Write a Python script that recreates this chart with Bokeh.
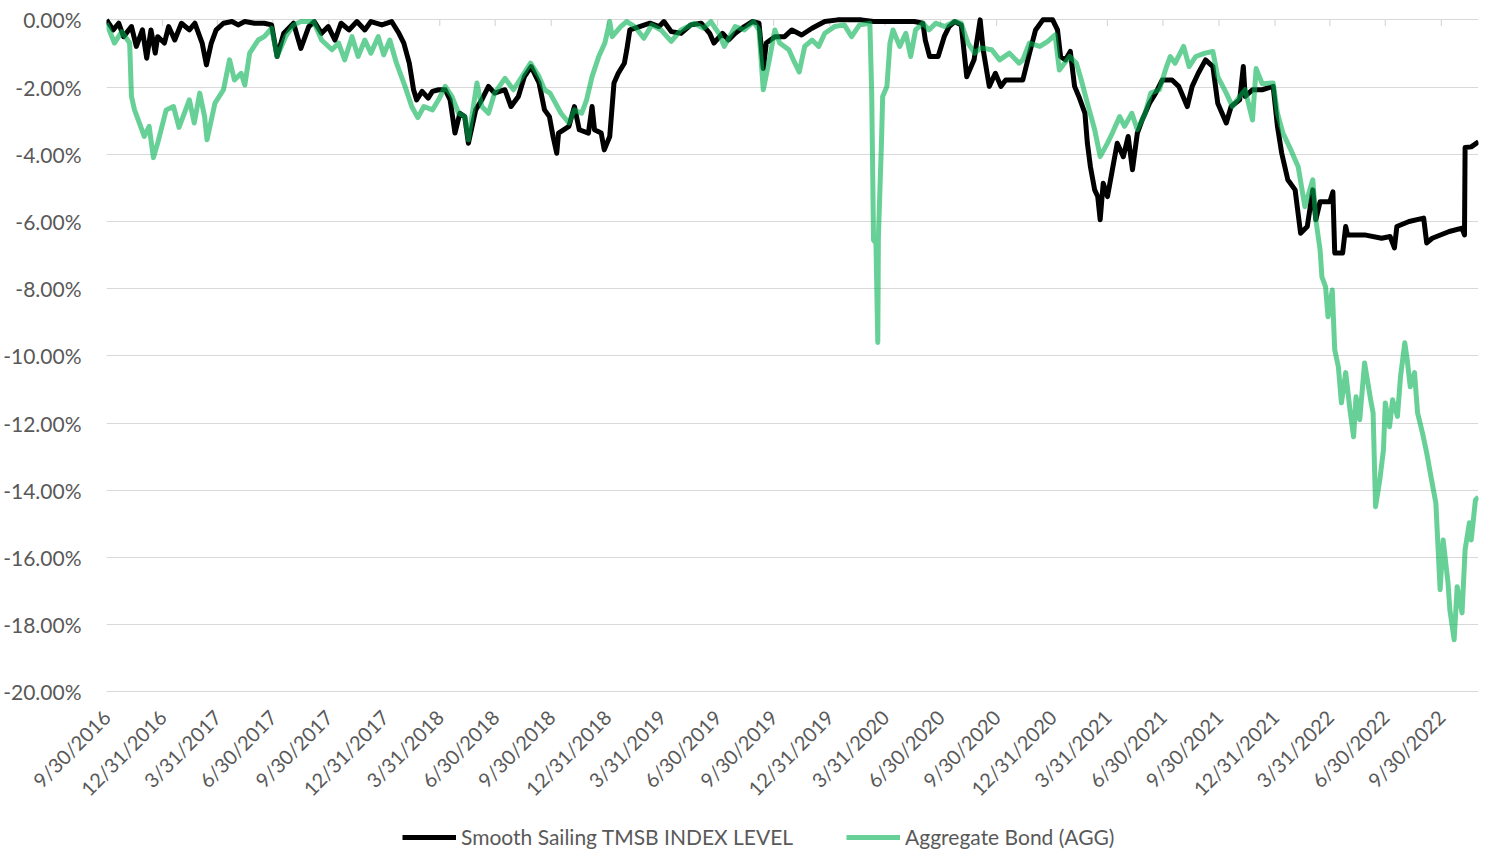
import math
import pandas as pd
from bokeh.plotting import figure
from bokeh.layouts import column
from bokeh.models import (Range1d, FixedTicker, CustomJSTickFormatter, PrintfTickFormatter,
                          Legend, ColumnDataSource)
from bokeh.embed import file_html
from bokeh.resources import INLINE

# ---------------- data (drawdown, %) ----------------
tick_labels = ["9/30/2016", "12/31/2016", "3/31/2017", "6/30/2017", "9/30/2017", "12/31/2017",
               "3/31/2018", "6/30/2018", "9/30/2018", "12/31/2018", "3/31/2019", "6/30/2019",
               "9/30/2019", "12/31/2019", "3/31/2020", "6/30/2020", "9/30/2020", "12/31/2020",
               "3/31/2021", "6/30/2021", "9/30/2021", "12/31/2021", "3/31/2022", "6/30/2022",
               "9/30/2022"]
y_ticks = [0, -2, -4, -6, -8, -10, -12, -14, -16, -18, -20]

tmsb_dates = [
    "2016-09-30", "2016-10-11", "2016-10-20", "2016-10-28", "2016-11-10", "2016-11-18", "2016-11-28",
    "2016-12-05", "2016-12-12", "2016-12-19", "2016-12-23", "2017-01-03", "2017-01-10", "2017-01-20",
    "2017-01-31", "2017-02-13", "2017-02-22", "2017-03-06", "2017-03-13", "2017-03-21", "2017-03-29",
    "2017-04-10", "2017-04-24", "2017-05-04", "2017-05-15", "2017-05-31", "2017-06-16", "2017-06-28",
    "2017-07-07", "2017-07-18", "2017-08-03", "2017-08-15", "2017-08-28", "2017-09-06", "2017-09-18",
    "2017-09-29", "2017-10-10", "2017-10-20", "2017-11-02", "2017-11-15", "2017-11-28", "2017-12-08",
    "2017-12-26", "2018-01-11", "2018-01-23", "2018-01-31", "2018-02-09", "2018-02-16", "2018-02-21",
    "2018-03-02", "2018-03-12", "2018-03-19", "2018-03-29", "2018-04-09", "2018-04-17", "2018-04-25",
    "2018-05-03", "2018-05-11", "2018-05-17", "2018-05-29", "2018-06-08", "2018-06-19", "2018-06-29",
    "2018-07-16", "2018-07-26", "2018-08-07", "2018-08-17", "2018-08-28", "2018-09-10", "2018-09-19",
    "2018-09-27", "2018-10-03", "2018-10-09", "2018-10-12", "2018-10-29", "2018-11-07", "2018-11-15",
    "2018-11-30", "2018-12-06", "2018-12-10", "2018-12-21", "2018-12-26", "2019-01-04", "2019-01-11",
    "2019-01-18", "2019-01-28", "2019-02-01", "2019-02-06", "2019-02-22", "2019-03-11", "2019-03-26",
    "2019-04-03", "2019-04-15", "2019-05-01", "2019-05-17", "2019-06-03", "2019-06-17", "2019-06-24",
    "2019-07-08", "2019-07-18", "2019-07-29", "2019-08-13", "2019-08-26", "2019-09-06", "2019-09-13",
    "2019-09-18", "2019-10-02", "2019-10-18", "2019-10-30", "2019-11-15", "2019-12-02", "2019-12-23",
    "2020-01-13", "2020-02-21", "2020-03-12", "2020-05-18", "2020-06-01", "2020-06-05", "2020-06-12",
    "2020-06-26", "2020-07-06", "2020-07-14", "2020-07-23", "2020-08-03", "2020-08-12", "2020-08-24",
    "2020-09-03", "2020-09-08", "2020-09-18", "2020-09-28", "2020-10-07", "2020-10-15", "2020-11-06",
    "2020-11-12", "2020-11-23", "2020-12-03", "2020-12-15", "2020-12-31", "2021-01-08", "2021-01-13",
    "2021-01-21", "2021-01-29", "2021-02-05", "2021-02-12", "2021-02-22", "2021-02-26", "2021-03-03",
    "2021-03-10", "2021-03-15", "2021-03-19", "2021-03-24", "2021-03-31", "2021-04-08", "2021-04-16",
    "2021-04-26", "2021-05-04", "2021-05-11", "2021-05-19", "2021-05-27", "2021-06-08", "2021-06-18",
    "2021-06-29", "2021-07-15", "2021-07-26", "2021-08-09", "2021-08-17", "2021-08-27", "2021-09-08",
    "2021-09-20", "2021-09-28", "2021-10-12", "2021-10-20", "2021-11-03", "2021-11-09", "2021-11-12",
    "2021-11-24", "2021-12-10", "2021-12-28", "2022-01-04", "2022-01-11", "2022-01-21", "2022-02-02",
    "2022-02-11", "2022-02-22", "2022-03-03", "2022-03-08", "2022-03-15", "2022-03-31", "2022-04-05",
    "2022-04-08", "2022-04-21", "2022-04-26", "2022-04-29", "2022-05-27", "2022-06-24", "2022-07-08",
    "2022-07-15", "2022-07-19", "2022-08-08", "2022-09-01", "2022-09-06", "2022-09-15", "2022-10-13",
    "2022-11-03", "2022-11-07", "2022-11-08", "2022-11-18", "2022-11-30"]
tmsb_values = [
    0.00, -0.30, -0.10, -0.50, -0.20, -0.79, -0.30,
    -1.14, -0.30, -0.99, -0.50, -0.69, -0.20, -0.60,
    -0.10, -0.30, -0.10, -0.69, -1.34, -0.69, -0.30,
    -0.10, -0.05, -0.15, -0.05, -0.10, -0.10, -0.15,
    -1.09, -0.40, -0.10, -0.85, -0.20, -0.05, -0.40,
    -0.20, -0.60, -0.10, -0.30, -0.05, -0.30, -0.05,
    -0.15, -0.05, -0.40, -0.69, -1.29, -2.08, -2.38,
    -2.13, -2.33, -2.13, -2.08, -2.08, -2.38, -3.37,
    -2.78, -2.88, -3.67, -2.68, -2.38, -1.98, -2.18,
    -2.08, -2.58, -2.28, -1.69, -1.39, -1.88, -2.68,
    -2.88, -3.47, -3.97, -3.37, -3.17, -2.58, -3.27,
    -3.37, -2.58, -3.27, -3.37, -3.87, -3.47, -1.88,
    -1.59, -1.29, -0.89, -0.30, -0.20, -0.10, -0.20,
    -0.05, -0.35, -0.40, -0.15, -0.10, -0.40, -0.69,
    -0.40, -0.60, -0.40, -0.20, -0.05, -0.10, -1.45,
    -0.69, -0.50, -0.50, -0.30, -0.45, -0.25, -0.05,
    0.00, 0.00, -0.05, -0.05, -0.10, -0.60, -1.09,
    -1.09, -0.50, -0.20, -0.05, -0.15, -1.69, -1.19,
    0.00, -0.89, -1.98, -1.59, -1.98, -1.79, -1.79,
    -1.79, -0.99, -0.30, 0.00, 0.00, -0.30, -1.09,
    -1.19, -0.94, -1.98, -2.28, -2.78, -3.67, -4.37,
    -5.06, -5.26, -5.95, -4.86, -5.26, -4.46, -3.67,
    -4.07, -3.47, -4.46, -3.37, -2.98, -2.48, -2.18,
    -1.79, -1.79, -1.98, -2.58, -1.98, -1.59, -1.19,
    -1.39, -2.48, -3.07, -2.58, -2.38, -1.39, -2.28,
    -2.08, -2.08, -1.98, -3.17, -3.97, -4.76, -5.06,
    -6.35, -6.15, -5.06, -5.95, -5.41, -5.41, -5.12,
    -6.94, -6.94, -6.15, -6.40, -6.40, -6.50, -6.45,
    -6.79, -6.15, -6.00, -5.90, -6.64, -6.50, -6.30,
    -6.20, -6.40, -3.80, -3.78, -3.63]

agg_dates = [
    "2016-09-30", "2016-10-13", "2016-10-25", "2016-11-07", "2016-11-10", "2016-11-15", "2016-11-23",
    "2016-12-01", "2016-12-09", "2016-12-16", "2016-12-23", "2017-01-06", "2017-01-18", "2017-01-27",
    "2017-02-13", "2017-02-21", "2017-03-02", "2017-03-10", "2017-03-14", "2017-03-27", "2017-04-10",
    "2017-04-20", "2017-04-28", "2017-05-09", "2017-05-15", "2017-05-23", "2017-06-06", "2017-06-16",
    "2017-06-28", "2017-07-07", "2017-07-21", "2017-08-03", "2017-08-15", "2017-09-05", "2017-09-18",
    "2017-10-05", "2017-10-16", "2017-10-26", "2017-11-07", "2017-11-17", "2017-11-28", "2017-12-08",
    "2017-12-20", "2017-12-29", "2018-01-08", "2018-01-19", "2018-02-02", "2018-02-13", "2018-02-23",
    "2018-03-05", "2018-03-19", "2018-03-29", "2018-04-09", "2018-04-20", "2018-05-01", "2018-05-11",
    "2018-05-17", "2018-05-31", "2018-06-08", "2018-06-19", "2018-06-29", "2018-07-16", "2018-07-30",
    "2018-08-13", "2018-08-27", "2018-09-10", "2018-09-19", "2018-09-28", "2018-10-16", "2018-10-29",
    "2018-11-07", "2018-11-19", "2018-11-27", "2018-12-06", "2018-12-17", "2018-12-27", "2019-01-04",
    "2019-01-08", "2019-01-22", "2019-02-01", "2019-02-14", "2019-03-01", "2019-03-14", "2019-03-29",
    "2019-04-15", "2019-05-01", "2019-05-23", "2019-06-07", "2019-06-19", "2019-07-02", "2019-07-11",
    "2019-07-29", "2019-08-13", "2019-08-28", "2019-09-06", "2019-09-13", "2019-09-23", "2019-10-02",
    "2019-10-10", "2019-10-25", "2019-11-04", "2019-11-11", "2019-11-20", "2019-12-02", "2019-12-13",
    "2019-12-23", "2020-01-08", "2020-01-24", "2020-02-05", "2020-02-18", "2020-03-06", "2020-03-09",
    "2020-03-12", "2020-03-16", "2020-03-19", "2020-03-20", "2020-03-25", "2020-03-27", "2020-04-03",
    "2020-04-08", "2020-04-13", "2020-04-24", "2020-05-04", "2020-05-12", "2020-05-20", "2020-06-01",
    "2020-06-11", "2020-06-22", "2020-07-07", "2020-07-23", "2020-08-03", "2020-08-14", "2020-08-25",
    "2020-09-04", "2020-09-22", "2020-10-05", "2020-10-21", "2020-11-06", "2020-11-12", "2020-11-23",
    "2020-12-10", "2020-12-23", "2021-01-04", "2021-01-11", "2021-01-28", "2021-02-08", "2021-02-16",
    "2021-02-26", "2021-03-10", "2021-03-19", "2021-03-31", "2021-04-08", "2021-04-20", "2021-04-28",
    "2021-05-10", "2021-05-19", "2021-06-01", "2021-06-10", "2021-06-24", "2021-07-06", "2021-07-12",
    "2021-07-20", "2021-08-03", "2021-08-12", "2021-08-23", "2021-09-07", "2021-09-20", "2021-09-28",
    "2021-10-12", "2021-10-22", "2021-11-03", "2021-11-12", "2021-11-24", "2021-11-30", "2021-12-10",
    "2021-12-28", "2022-01-04", "2022-01-13", "2022-01-26", "2022-02-07", "2022-02-18", "2022-03-03",
    "2022-03-08", "2022-03-15", "2022-03-18", "2022-03-24", "2022-03-28", "2022-04-04", "2022-04-08",
    "2022-04-14", "2022-04-19", "2022-04-26", "2022-05-03", "2022-05-09", "2022-05-13", "2022-05-19",
    "2022-05-27", "2022-06-06", "2022-06-10", "2022-06-14", "2022-06-21", "2022-06-27", "2022-06-30",
    "2022-07-07", "2022-07-12", "2022-07-20", "2022-07-25", "2022-08-01", "2022-08-05", "2022-08-10",
    "2022-08-17", "2022-08-22", "2022-08-30", "2022-09-06", "2022-09-13", "2022-09-21", "2022-09-28",
    "2022-10-03", "2022-10-11", "2022-10-14", "2022-10-21", "2022-10-26", "2022-11-03", "2022-11-08",
    "2022-11-15", "2022-11-18", "2022-11-25", "2022-11-30"]
agg_values = [
    -0.10, -0.69, -0.35, -0.69, -2.28, -2.68, -3.07,
    -3.47, -3.17, -4.10, -3.67, -2.68, -2.58, -3.20,
    -2.38, -3.07, -2.18, -2.88, -3.57, -2.48, -2.08,
    -1.19, -1.79, -1.59, -1.94, -0.99, -0.60, -0.50,
    -0.25, -1.09, -0.50, -0.15, -0.05, -0.05, -0.60,
    -0.89, -0.69, -1.19, -0.50, -1.09, -0.60, -0.99,
    -0.50, -1.04, -0.60, -1.29, -1.98, -2.58, -2.91,
    -2.58, -2.68, -2.38, -1.98, -2.28, -2.78, -2.88,
    -3.57, -1.88, -2.58, -2.78, -2.18, -1.74, -2.08,
    -1.69, -1.29, -1.69, -2.08, -2.18, -2.78, -3.07,
    -2.68, -2.78, -2.38, -1.69, -1.09, -0.69, -0.05,
    -0.50, -0.20, -0.05, -0.20, -0.55, -0.15, -0.30,
    -0.64, -0.30, -0.10, -0.25, -0.05, -0.40, -0.79,
    -0.20, -0.30, -0.05, -0.30, -2.08, -1.19, -0.30,
    -0.69, -0.89, -1.29, -1.55, -0.79, -0.60, -0.79,
    -0.40, -0.20, -0.15, -0.50, -0.15, -0.10, -2.18,
    -6.55, -6.65, -9.60, -6.45, -3.67, -2.28, -1.98,
    -0.69, -0.30, -0.79, -0.40, -1.09, -0.30, -0.10,
    -0.30, -0.10, -0.20, -0.05, -0.10, -0.69, -0.99,
    -0.84, -0.89, -1.19, -0.99, -1.29, -1.19, -0.69,
    -0.79, -0.64, -0.45, -1.49, -1.09, -1.29, -1.79,
    -2.48, -3.27, -4.07, -3.67, -3.37, -2.88, -3.17,
    -2.78, -3.27, -2.78, -2.18, -2.08, -1.39, -1.09,
    -1.29, -0.79, -1.39, -1.09, -0.99, -0.94, -1.69,
    -2.18, -2.58, -2.28, -2.08, -2.98, -1.45, -1.90,
    -1.88, -2.78, -3.37, -3.87, -4.37, -5.56, -4.76,
    -5.95, -6.85, -7.65, -7.95, -8.84, -8.04, -9.82,
    -10.33, -11.40, -10.50, -11.60, -12.41, -11.22, -11.90,
    -10.21, -11.31, -11.70, -14.49, -13.69, -12.80, -11.40,
    -12.11, -11.31, -11.80, -10.62, -9.61, -10.12, -10.92,
    -10.50, -11.70, -12.29, -12.89, -13.60, -14.38, -16.96,
    -15.48, -16.76, -17.56, -18.45, -16.87, -17.65, -15.77,
    -14.97, -15.48, -14.29, -14.20]

series_names = ["Smooth Sailing TMSB INDEX LEVEL", "Aggregate Bond (AGG)"]

# ---------------- figure ----------------
FONT = "Lato"
GRAY_TXT = "#595959"
GRID = "#D9D9D9"
BLACK = "#000000"
GREEN = "#00B050"

tick_dt = pd.to_datetime(tick_labels, format="%m/%d/%Y")
tick_ms = [int(t.value // 10**6) for t in tick_dt]

tmsb_src = ColumnDataSource(dict(x=pd.to_datetime(tmsb_dates), y=tmsb_values))
agg_src = ColumnDataSource(dict(x=pd.to_datetime(agg_dates), y=agg_values))

p = figure(frame_width=1372, frame_height=677, x_axis_type="datetime",
           x_range=Range1d(pd.Timestamp(tmsb_dates[0]), pd.Timestamp(tmsb_dates[-1])),
           y_range=Range1d(-20.05, 0.1),
           output_backend="svg", toolbar_location=None,
           min_border_left=102, min_border_right=7, min_border_top=16, min_border_bottom=126,
           outline_line_color=None, background_fill_color="white", border_fill_color="white")

# short tick marks hanging from the 0% line (category axis crosses at 0%)
tick_src = ColumnDataSource(dict(x=tick_dt, y0=[0.0] * len(tick_dt), y1=[-0.18] * len(tick_dt)))
p.segment(x0="x", y0="y0", x1="x", y1="y1", source=tick_src, line_color=GRID, line_width=1.2)

p.line("x", "y", source=tmsb_src, line_color=BLACK, line_width=5, line_join="round")
p.line("x", "y", source=agg_src, line_color=GREEN, line_alpha=0.6, line_width=5, line_join="round")

# x axis (below)
xa = p.xaxis[0]
xa.ticker = FixedTicker(ticks=tick_ms)
xa.formatter = CustomJSTickFormatter(code="""
    const d = new Date(tick);
    return (d.getUTCMonth() + 1) + "/" + d.getUTCDate() + "/" + d.getUTCFullYear();
""")
xa.major_label_orientation = math.pi / 4
xa.axis_line_color = None
xa.major_tick_line_color = None
xa.minor_tick_line_color = None
xa.major_label_text_font = FONT
xa.major_label_text_font_size = "20px"
xa.major_label_text_color = GRAY_TXT
xa.major_label_standoff = 14

# y axis
ya = p.yaxis[0]
ya.ticker = FixedTicker(ticks=y_ticks)
ya.formatter = PrintfTickFormatter(format="%.2f%%")
ya.axis_line_color = None
ya.major_tick_line_color = None
ya.minor_tick_line_color = None
ya.major_label_text_font = FONT
ya.major_label_text_font_size = "21px"
ya.major_label_text_color = GRAY_TXT
ya.major_label_standoff = 19

p.xgrid.visible = False
p.ygrid.ticker = FixedTicker(ticks=y_ticks)
p.ygrid.grid_line_color = GRID
p.ygrid.grid_line_width = 1.2

# ---------------- legend strip under the chart ----------------
# the same series are drawn here but fall outside this strip's range; only the legend shows
leg = figure(width=1481, height=30, x_range=Range1d(0, 1), y_range=Range1d(0, 1),
             output_backend="svg", toolbar_location=None, min_border=0,
             outline_line_color=None, background_fill_color="white", border_fill_color="white")
leg.axis.visible = False
leg.grid.visible = False
l1 = leg.line("x", "y", source=tmsb_src, line_color=BLACK, line_width=5)
l2 = leg.line("x", "y", source=agg_src, line_color=GREEN, line_alpha=0.6, line_width=5)
legend = Legend(items=[(series_names[0], [l1]), (series_names[1], [l2])],
                orientation="horizontal", location=(296, 0),
                border_line_color=None, background_fill_alpha=0,
                label_text_font=FONT, label_text_font_size="21px", label_text_color=GRAY_TXT,
                glyph_width=54, glyph_height=20, label_standoff=5, spacing=53,
                padding=0, margin=0)
leg.add_layout(legend, "center")

open("out.html", "w").write(file_html(column(p, leg, spacing=0), INLINE))
